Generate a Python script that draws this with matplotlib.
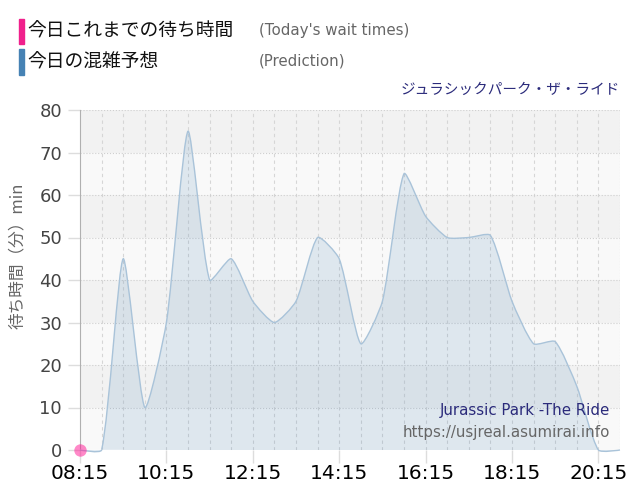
import matplotlib
matplotlib.use("Agg")
import numpy as np
import matplotlib.pyplot as plt
from matplotlib.path import Path
from matplotlib.patches import PathPatch, Rectangle

# 今日の混雑予想 (30分ごと)
pred_times = ["08:15", "08:45", "09:15", "09:45", "10:15", "10:45", "11:15",
              "11:45", "12:15", "12:45", "13:15", "13:45", "14:15", "14:45",
              "15:15", "15:45", "16:15", "16:45", "17:15", "17:45", "18:15",
              "18:45", "19:15", "19:45", "20:15", "20:45"]
pred_values = [0, 0, 45, 10, 30, 75, 40,
               45, 35, 30, 35, 50, 45, 25,
               35, 65, 55, 50, 50, 50.5, 35,
               25, 25.5, 15, 0, 0]

# 今日これまでの待ち時間
actual_times = ["08:15"]
actual_values = [0]

x_tick_labels = ["08:15", "10:15", "12:15", "14:15", "16:15", "18:15", "20:15"]
y_ticks = [0, 10, 20, 30, 40, 50, 60, 70, 80]

CJK = ["Noto Sans CJK JP", "DejaVu Sans"]


def to_min(s):
    h, m = s.split(":")
    return int(h) * 60 + int(m)


def spline_path(ax, xs, ys, tension=0.2, closed=False):
    """Chart.js風のスプライン (画面座標で制御点を計算)"""
    pts = ax.transData.transform(np.column_stack([xs, ys]))
    n = len(pts)
    left, right = pts.copy(), pts.copy()
    for i in range(1, n - 1):
        p0, p1, p2 = pts[i - 1], pts[i], pts[i + 1]
        d01 = np.hypot(*(p1 - p0))
        d12 = np.hypot(*(p2 - p1))
        fa = tension * d01 / (d01 + d12)
        fb = tension * d12 / (d01 + d12)
        left[i] = p1 - fa * (p2 - p0)
        right[i] = p1 + fb * (p2 - p0)
    inv = ax.transData.inverted()
    pts, left, right = inv.transform(pts), inv.transform(left), inv.transform(right)
    verts = [tuple(pts[0])]
    codes = [Path.MOVETO]
    for i in range(1, n):
        verts += [tuple(right[i - 1]), tuple(left[i]), tuple(pts[i])]
        codes += [Path.CURVE4] * 3
    if closed:
        verts += [(xs[-1], 0), (xs[0], 0), (xs[0], ys[0])]
        codes += [Path.LINETO, Path.LINETO, Path.CLOSEPOLY]
    return Path(verts, codes)


px = [to_min(t) for t in pred_times]
ax_px = [to_min(t) for t in actual_times]
x0, x1 = px[0], px[-1]

fig = plt.figure(figsize=(6.4, 5), dpi=100)
ax = fig.add_axes([80 / 640, 50 / 500, 540 / 640, 340 / 500])
ax.set_xlim(x0, x1)
ax.set_ylim(0, 80)

# 背景の帯
for k, lo in enumerate(y_ticks[:-1]):
    ax.axhspan(lo, lo + 10, color="#f9f9f9" if k % 2 == 0 else "#f2f2f2",
               lw=0, zorder=0)

# グリッド
for t in px[1:-1]:
    ax.axvline(t, color="#d6d6d6", lw=0.8, ls=(0, (3, 3)), zorder=1)
ax.axvline(x1, color="#cccccc", lw=0.8, ls=":", zorder=1)
for v in y_ticks[1:]:
    ax.axhline(v, color="#cfcfcf", lw=0.8, ls=":", zorder=1)

# 予想
ax.add_patch(PathPatch(spline_path(ax, px, pred_values, closed=True),
                       facecolor="#4682b4", alpha=0.15, lw=0, zorder=2,
                       clip_on=False))
ax.add_patch(PathPatch(spline_path(ax, px, pred_values), facecolor="none",
                       edgecolor="#a9c3d9", lw=1, zorder=3, clip_on=False))

# 実績
ax.plot([x0, to_min("09:15")], [0, 0], color="white", lw=1, zorder=4)
ax.scatter(ax_px, actual_values, s=80, color="#ff1493", alpha=0.5,
           lw=0, zorder=5, clip_on=False)

for s in ["top", "right", "bottom"]:
    ax.spines[s].set_visible(False)
ax.spines["left"].set_color("#b0b0b0")

ax.set_xticks([to_min(t) for t in x_tick_labels])
ax.set_xticklabels(x_tick_labels)
ax.set_yticks(y_ticks)
ax.tick_params(axis="x", length=9, width=1, color="#dddddd", pad=1,
               labelsize=14.5, labelcolor="black")
ax.tick_params(axis="y", length=9, width=1, color="#dddddd", pad=4,
               labelsize=13, labelcolor="#444444")

# 凡例
fig.patches.append(Rectangle((19 / 640, 1 - 44 / 500), 5 / 640, 25 / 500,
                             color="#f0208c", transform=fig.transFigure))
fig.patches.append(Rectangle((19 / 640, 1 - 75 / 500), 5 / 640, 26 / 500,
                             color="#4682b4", transform=fig.transFigure))
fig.text(27 / 640, 1 - 31 / 500, "今日これまでの待ち時間", family=CJK,
         fontsize=13.5, va="center", color="#111111")
fig.text(27 / 640, 1 - 62 / 500, "今日の混雑予想", family=CJK,
         fontsize=13.5, va="center", color="#111111")
fig.text(259 / 640, 1 - 31 / 500, "(Today's wait times)", fontsize=10.8,
         va="center", color="#666666")
fig.text(259 / 640, 1 - 61 / 500, "(Prediction)", fontsize=10.8,
         va="center", color="#666666")

fig.text(620 / 640, 1 - 90 / 500, "ジュラシックパーク・ザ・ライド", family=CJK,
         fontsize=10.5, ha="right", va="center", color="#2b2b7b")
fig.text(17 / 640, 1 - 256 / 500, "待ち時間（分）min", family=CJK,
         fontsize=12, rotation=90, ha="center", va="center", color="#666666")

fig.text(610 / 640, 1 - 411 / 500, "Jurassic Park -The Ride", fontsize=10.8,
         ha="right", va="center", color="#2b2b7b")
fig.text(610 / 640, 1 - 432 / 500, "https://usjreal.asumirai.info",
         fontsize=10.8, ha="right", va="center", color="#666666")

fig.savefig("out.png", dpi=100)
